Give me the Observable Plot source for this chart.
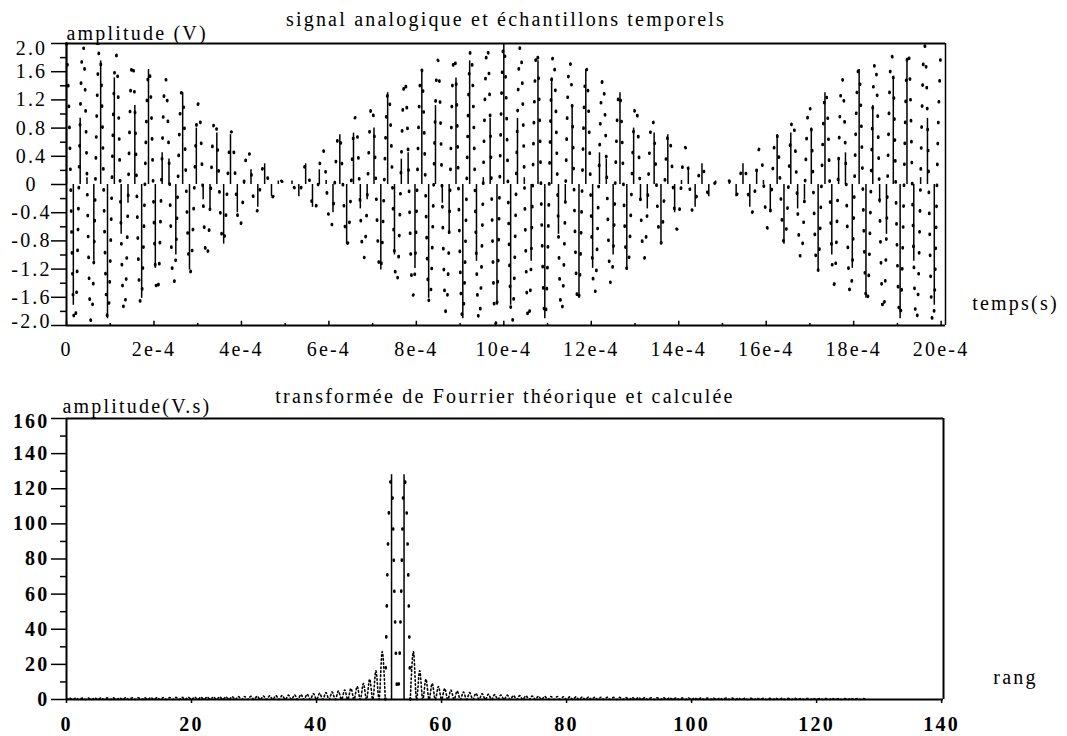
<!DOCTYPE html>
<html>
<head>
<meta charset="utf-8">
<script src="https://cdn.jsdelivr.net/npm/d3@7"></script>
<script src="https://cdn.jsdelivr.net/npm/@observablehq/plot@0.6"></script>
<style>
  html, body { margin: 0; padding: 0; background: #fff; }
  #chart svg { display: block; }
  #chart svg text { letter-spacing: 2.2px; }
</style>
</head>
<body>
<div id="chart"></div>
<script>
// ---- Signal: 128 samples taken over 2 ms ----
const samplePeriod = 2e-3 / 128;          // s
const samples = [
  2.000, -1.713, 0.938, 0.097, -1.090, 1.754, -1.905, 1.512, -0.707, -0.265,
  1.119, -1.615, 1.631, -1.190, 0.449, 0.360, -1.000, 1.303, -1.214, 0.800,
  -0.217, -0.346, 0.729, -0.846, 0.707, -0.401, 0.057, 0.208, -0.324, 0.293,
  -0.173, 0.050, 0.000, 0.050, -0.173, 0.293, -0.324, 0.208, 0.057, -0.401,
  0.707, -0.846, 0.729, -0.346, -0.217, 0.800, -1.214, 1.303, -1.000, 0.360,
  0.449, -1.190, 1.631, -1.615, 1.119, -0.265, -0.707, 1.512, -1.905, 1.754,
  -1.090, 0.097, 0.938, -1.713,
  2.000, -1.713, 0.938, 0.097, -1.090, 1.754, -1.905, 1.512, -0.707, -0.265,
  1.119, -1.615, 1.631, -1.190, 0.449, 0.360, -1.000, 1.303, -1.214, 0.800,
  -0.217, -0.346, 0.729, -0.846, 0.707, -0.401, 0.057, 0.208, -0.324, 0.293,
  -0.173, 0.050, 0.000, 0.050, -0.173, 0.293, -0.324, 0.208, 0.057, -0.401,
  0.707, -0.846, 0.729, -0.346, -0.217, 0.800, -1.214, 1.303, -1.000, 0.360,
  0.449, -1.190, 1.631, -1.615, 1.119, -0.265, -0.707, 1.512, -1.905, 1.754,
  -1.090, 0.097, 0.938, -1.713
];

// analog signal, read every half sample period (0 .. 2 ms)
const analog = [
  2.000, 0.533, -1.713, -1.444, 0.938, 1.937, 0.097, -1.871, -1.090, 1.275, 1.754, -0.329, -1.905, -0.683, 1.512, 1.471,
  -0.707, -1.815, -0.265, 1.633, 1.119, -1.002, -1.615, 0.124, 1.631, 0.735, -1.190, -1.332, 0.449, 1.514, 0.360, -1.260,
  -1.000, 0.680, 1.303, 0.032, -1.214, -0.658, 0.800, 1.029, -0.217, -1.067, -0.346, 0.806, 0.729, -0.364, -0.846, -0.099,
  0.707, 0.443, -0.401, -0.585, 0.057, 0.526, 0.208, -0.332, -0.324, 0.107, 0.293, 0.054, -0.173, -0.101, 0.050, 0.047,
  0.000, 0.047, 0.050, -0.101, -0.173, 0.054, 0.293, 0.107, -0.324, -0.332, 0.208, 0.526, 0.057, -0.585, -0.401, 0.443,
  0.707, -0.099, -0.846, -0.364, 0.729, 0.806, -0.346, -1.067, -0.217, 1.029, 0.800, -0.658, -1.214, 0.032, 1.303, 0.680,
  -1.000, -1.260, 0.360, 1.514, 0.449, -1.332, -1.190, 0.735, 1.631, 0.124, -1.615, -1.002, 1.119, 1.633, -0.265, -1.815,
  -0.707, 1.471, 1.512, -0.683, -1.905, -0.329, 1.754, 1.275, -1.090, -1.871, 0.097, 1.937, 0.938, -1.444, -1.713, 0.533,
  2.000,
  0.533, -1.713, -1.444, 0.938, 1.937, 0.097, -1.871, -1.090, 1.275, 1.754, -0.329, -1.905, -0.683, 1.512, 1.471,
  -0.707, -1.815, -0.265, 1.633, 1.119, -1.002, -1.615, 0.124, 1.631, 0.735, -1.190, -1.332, 0.449, 1.514, 0.360, -1.260,
  -1.000, 0.680, 1.303, 0.032, -1.214, -0.658, 0.800, 1.029, -0.217, -1.067, -0.346, 0.806, 0.729, -0.364, -0.846, -0.099,
  0.707, 0.443, -0.401, -0.585, 0.057, 0.526, 0.208, -0.332, -0.324, 0.107, 0.293, 0.054, -0.173, -0.101, 0.050, 0.047,
  0.000, 0.047, 0.050, -0.101, -0.173, 0.054, 0.293, 0.107, -0.324, -0.332, 0.208, 0.526, 0.057, -0.585, -0.401, 0.443,
  0.707, -0.099, -0.846, -0.364, 0.729, 0.806, -0.346, -1.067, -0.217, 1.029, 0.800, -0.658, -1.214, 0.032, 1.303, 0.680,
  -1.000, -1.260, 0.360, 1.514, 0.449, -1.332, -1.190, 0.735, 1.631, 0.124, -1.615, -1.002, 1.119, 1.633, -0.265, -1.815,
  -0.707, 1.471, 1.512, -0.683, -1.905, -0.329, 1.754, 1.275, -1.090, -1.871, 0.097, 1.937, 0.938, -1.444, -1.713, 0.533,
  2.000
];

const timeTicks = [0, 0.0002, 0.0004, 0.0006, 0.0008, 0.0010, 0.0012, 0.0014, 0.0016, 0.0018, 0.0020];
const timeTickLabels = ["0", "2e-4", "4e-4", "6e-4", "8e-4", "10e-4", "12e-4", "14e-4", "16e-4", "18e-4", "20e-4"];
const timeMinorTicks = [0.0001, 0.0003, 0.0005, 0.0007, 0.0009, 0.0011, 0.0013, 0.0015, 0.0017, 0.0019];
const voltTicks = [-2, -1.6, -1.2, -0.8, -0.4, 0, 0.4, 0.8, 1.2, 1.6, 2];
const voltTickLabels = ["-2.0", "-1.6", "-1.2", "-0.8", "-0.4", "0", "0.4", "0.8", "1.2", "1.6", "2.0"];
const voltMinorTicks = [-1.8, -1.4, -1.0, -0.6, -0.2, 0.2, 0.6, 1.0, 1.4, 1.8];

// ---- Spectrum: computed values per rank 0..127 ----
const fftCalc = [
  0, 0, 0, 0, 0, 0, 0, 0, 0, 0, 0, 0, 0, 0, 0, 0, 0, 0, 0, 0,
  0, 0, 0, 0, 0, 0, 0, 0, 0, 0, 0, 0, 0, 0, 0, 0, 0, 0, 0, 0,
  0, 0, 0, 0, 0, 0, 0, 0, 0, 0, 0, 0, 128, 0, 128, 0, 0, 0, 0, 0,
  0, 0, 0, 0, 0, 0, 0, 0, 0, 0, 0, 0, 0, 0, 0, 0, 0, 0, 0, 0,
  0, 0, 0, 0, 0, 0, 0, 0, 0, 0, 0, 0, 0, 0, 0, 0, 0, 0, 0, 0,
  0, 0, 0, 0, 0, 0, 0, 0, 0, 0, 0, 0, 0, 0, 0, 0, 0, 0, 0, 0,
  0, 0, 0, 0, 0, 0, 0, 0
];

// theoretical spectrum: value at each whole rank 0..128
const theoAtRank = [
  0, 0, 0, 0, 0, 0, 0, 0, 0, 0, 0, 0, 0, 0, 0, 0, 0, 0, 0, 0,
  0, 0, 0, 0, 0, 0, 0, 0, 0, 0, 0, 0, 0, 0, 0, 0, 0, 0, 0, 0,
  0, 0, 0, 0, 0, 0, 0, 0, 0, 0, 0, 0, 128, 0, 128, 0, 0, 0, 0, 0,
  0, 0, 0, 0, 0, 0, 0, 0, 0, 0, 0, 0, 0, 0, 0, 0, 0, 0, 0, 0,
  0, 0, 0, 0, 0, 0, 0, 0, 0, 0, 0, 0, 0, 0, 0, 0, 0, 0, 0, 0,
  0, 0, 0, 0, 0, 0, 0, 0, 0, 0, 0, 0, 0, 0, 0, 0, 0, 0, 0, 0,
  0, 0, 0, 0, 0, 0, 0, 0, 0
];
// ...and halfway between ranks (k + 0.5, k = 0..127)
const theoMidRank = [
  0.8, 0.8, 0.8, 0.8, 0.9, 0.9, 0.9, 0.9, 0.9, 1.0,
  1.0, 1.0, 1.0, 1.1, 1.1, 1.1, 1.1, 1.2, 1.2, 1.3,
  1.3, 1.3, 1.4, 1.4, 1.5, 1.5, 1.6, 1.7, 1.7, 1.8,
  1.9, 2.0, 2.1, 2.2, 2.3, 2.5, 2.6, 2.8, 3.0, 3.3,
  3.5, 3.9, 4.3, 4.8, 5.4, 6.3, 7.4, 9.1, 11.6, 16.3,
  27.2, 97.8, 54.3, 54.3, 97.8,
  27.2, 16.3, 11.6, 9.1, 7.4, 6.3, 5.4, 4.8, 4.3, 3.9,
  3.5, 3.3, 3.0, 2.8, 2.6, 2.5, 2.3, 2.2, 2.1, 2.0,
  1.9, 1.8, 1.7, 1.7, 1.6, 1.5, 1.5, 1.4, 1.4, 1.3,
  1.3, 1.3, 1.2, 1.2, 1.1, 1.1, 1.1, 1.1, 1.0, 1.0,
  1.0, 1.0, 0.9, 0.9, 0.9, 0.9, 0.9, 0.8, 0.8, 0.8,
  0.8, 0.8, 0.8, 0.7, 0.7, 0.7, 0.7, 0.7, 0.7, 0.7,
  0.7, 0.7, 0.6, 0.6, 0.6, 0.6, 0.6, 0.6, 0.6, 0.6,
  0.6, 0.6, 0.6
];

const rankTicks = [0, 20, 40, 60, 80, 100, 120, 140];
const ampTicks = [0, 20, 40, 60, 80, 100, 120, 140, 160];
const ampMinorTicks = [10, 30, 50, 70, 90, 110, 130, 150];

// ---- tables ----
const sampleRows = samples.map((v, n) => ({t: n * samplePeriod, v}));
const analogRows = analog.map((v, k) => ({t: k * samplePeriod / 2, v}));
const calcRows = fftCalc.map((amp, rang) => ({rang, amp}));
const theoRows = [];
theoAtRank.forEach((amp, k) => {
  theoRows.push({rang: k, amp});
  if (k < theoMidRank.length) theoRows.push({rang: k + 0.5, amp: theoMidRank[k]});
});
// the two main lobes (ranks 51..55) are drawn with sparser dots than the side lobes
const mainLobe = theoRows.filter(r => r.rang >= 51 && r.rang <= 55);
const sideLobes = theoRows
  .filter(r => r.rang <= 51 || r.rang >= 55)
  .map(r => ({...r, side: r.rang <= 51 ? "low" : "high"}));

const serif = "'Liberation Serif', 'Times New Roman', serif";
const txt = {fontFamily: serif, fontSize: 20, fill: "black", lineAnchor: "middle"};
const bold = {...txt, fontWeight: "bold"};
const timeMax = 0.00201;
const rankMax = 140.3;

const signalChart = Plot.plot({
  width: 1067, height: 368,
  marginLeft: 66, marginRight: 122, marginTop: 43, marginBottom: 43,
  style: {fontFamily: serif, background: "white", color: "black"},
  x: {domain: [0, timeMax], axis: null},
  y: {domain: [-2, 2]},
  marks: [
    // analog signal, dotted
    Plot.line(analogRows, {x: "t", y: "v", curve: "natural", stroke: "black",
      strokeWidth: 2.8, strokeDasharray: "0.9,20"}),
    // samples as stems
    Plot.ruleX(sampleRows, {x: "t", y1: 0, y2: "v", stroke: "black", strokeWidth: 1.5}),
    // frame
    Plot.ruleY([2], {stroke: "black", strokeWidth: 2}),
    Plot.ruleY([-2], {stroke: "black", strokeWidth: 2}),
    Plot.ruleX([0], {stroke: "black", strokeWidth: 2}),
    Plot.ruleX([timeMax], {stroke: "black", strokeWidth: 1.5}),
    // axis ticks
    Plot.axisY({ticks: voltTicks, tickSize: 15, strokeWidth: 1.5, tickFormat: () => "", label: null}),
    Plot.axisY({ticks: voltMinorTicks, tickSize: 6, strokeWidth: 1.5, tickFormat: () => "", label: null}),
    Plot.ruleX(timeTicks, {x: d => d, y1: -2, y2: -1.94, stroke: "black", strokeWidth: 1.5}),
    Plot.ruleX(timeMinorTicks, {x: d => d, y1: -2, y2: -1.97, stroke: "black", strokeWidth: 1.5}),
    // tick labels
    Plot.text(voltTicks.slice(1, -1), {y: d => d, text: d => voltTickLabels[voltTicks.indexOf(d)],
      frameAnchor: "left", dx: -35, textAnchor: "middle", ...txt}),
    Plot.text([2], {y: d => d, text: ["2.0"], frameAnchor: "left", dx: -35, dy: 5, textAnchor: "middle", ...txt}),
    Plot.text([-2], {y: d => d, text: ["-2.0"], frameAnchor: "left", dx: -35, dy: -4, textAnchor: "middle", ...txt}),
    Plot.text(timeTicks, {x: d => d, text: (d, i) => timeTickLabels[i], frameAnchor: "bottom", dy: 24,
      textAnchor: "middle", ...txt}),
    // titles
    Plot.text(["signal analogique et échantillons temporels"], {text: d => d, frameAnchor: "top", dy: -24,
      textAnchor: "middle", ...txt}),
    Plot.text(["amplitude (V)"], {text: d => d, frameAnchor: "top-left", dy: -10, textAnchor: "start", ...txt}),
    Plot.text(["temps(s)"], {text: d => d, frameAnchor: "bottom-right", dx: 70, dy: -22, textAnchor: "middle", ...txt})
  ]
});

const spectrumChart = Plot.plot({
  width: 1067, height: 368,
  marginLeft: 66, marginRight: 124, marginTop: 50, marginBottom: 37,
  style: {fontFamily: serif, background: "white", color: "black"},
  x: {domain: [0, rankMax]},
  y: {domain: [0, 160]},
  marks: [
    // theoretical transform, dotted
    Plot.line(sideLobes, {x: "rang", y: "amp", z: "side", curve: "monotone-x", stroke: "black",
      strokeWidth: 1.6, strokeDasharray: "1.5,2.5"}),
    Plot.line(mainLobe, {x: "rang", y: "amp", curve: "monotone-x", stroke: "black",
      strokeWidth: 2.6, strokeDasharray: "1,30"}),
    // computed transform as stems
    Plot.ruleX(calcRows, {x: "rang", y1: 0, y2: "amp", stroke: "black", strokeWidth: 1.5}),
    // frame
    Plot.ruleY([160], {stroke: "black", strokeWidth: 2}),
    Plot.ruleY([0], {stroke: "black", strokeWidth: 2}),
    Plot.ruleX([0], {stroke: "black", strokeWidth: 2}),
    Plot.ruleX([rankMax], {stroke: "black", strokeWidth: 2}),
    // axis ticks
    Plot.axisY({ticks: ampTicks, tickSize: 15, strokeWidth: 1.5, tickFormat: () => "", label: null}),
    Plot.axisY({ticks: ampMinorTicks, tickSize: 6, strokeWidth: 1.5, tickFormat: () => "", label: null}),
    Plot.axisX({ticks: rankTicks, tickSize: 4, strokeWidth: 1.5, tickFormat: () => "", label: null}),
    // tick labels
    Plot.text(ampTicks.slice(0, -1), {y: d => d, text: d => String(d), frameAnchor: "left", dx: -17,
      textAnchor: "end", ...bold}),
    Plot.text([160], {y: d => d, text: d => String(d), frameAnchor: "left", dx: -17, dy: 3,
      textAnchor: "end", ...bold}),
    Plot.text(rankTicks, {x: d => d, text: d => String(d), frameAnchor: "bottom", dy: 25,
      textAnchor: "middle", ...bold}),
    // titles
    Plot.text(["transformée de Fourrier théorique et calculée"], {text: d => d, frameAnchor: "top", dy: -22,
      textAnchor: "middle", ...txt}),
    Plot.text(["amplitude(V.s)"], {text: d => d, frameAnchor: "top-left", dx: -4, dy: -12, textAnchor: "start", ...txt}),
    Plot.text(["rang"], {text: d => d, frameAnchor: "bottom-right", dx: 72, dy: -22, textAnchor: "middle", ...txt})
  ]
});

const chart = document.getElementById("chart");
chart.appendChild(signalChart);
chart.appendChild(spectrumChart);
</script>
</body>
</html>
